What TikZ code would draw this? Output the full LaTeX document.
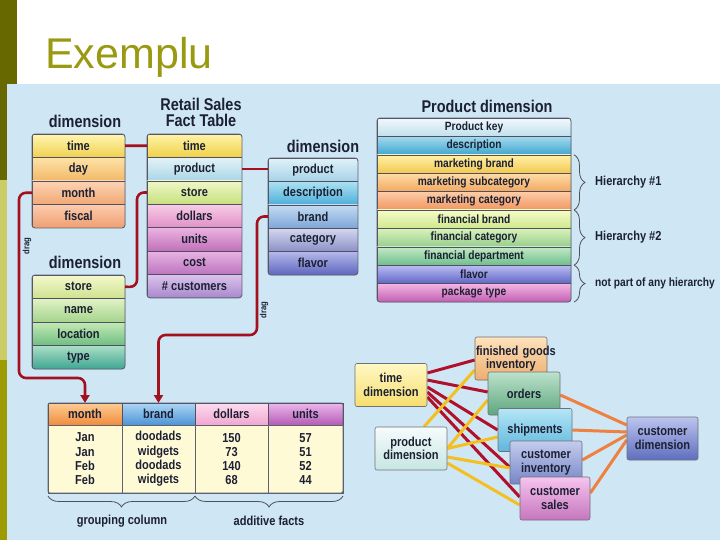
\documentclass[tikz,border=0pt]{standalone}
\usepackage{fontspec}
\setmainfont{Liberation Sans}
\newfontfamily\cfont[FakeStretch=0.85]{Liberation Sans}
\usetikzlibrary{decorations.pathreplacing,arrows.meta}
\pgfdeclarelayer{bg}
\pgfdeclarelayer{edges}
\pgfsetlayers{bg,edges,main}
% base colours
\definecolor{panel}{HTML}{CFE6F4}
\definecolor{stripa}{HTML}{686800}
\definecolor{stripb}{HTML}{CCCC66}
\definecolor{stripc}{HTML}{9C9C00}
\definecolor{titleol}{HTML}{9A9A12}
\definecolor{txt}{HTML}{1C2033}
\definecolor{rowline}{HTML}{505060}
\definecolor{tborder}{HTML}{606070}
\definecolor{bracec}{HTML}{505058}
\definecolor{dragred}{HTML}{A3101E}
\definecolor{ered}{HTML}{B0102A}
\definecolor{eyel}{HTML}{F4C020}
\definecolor{eora}{HTML}{F08040}
\definecolor{gborder}{HTML}{707078}
% table 1
\definecolor{t1a}{HTML}{FFF6B0}\definecolor{t1b}{HTML}{F0D050}
\definecolor{dya}{HTML}{FDE2A8}\definecolor{dyb}{HTML}{F2B866}
\definecolor{moa}{HTML}{FDD4B4}\definecolor{mob}{HTML}{F0A874}
\definecolor{fia}{HTML}{FCCCAE}\definecolor{fib}{HTML}{EE9E70}
% fact table
\definecolor{fta}{HTML}{FFF4A8}\definecolor{ftb}{HTML}{F0D048}
\definecolor{fpa}{HTML}{E4F2F6}\definecolor{fpb}{HTML}{A8D6E6}
\definecolor{fsa}{HTML}{F0F8C8}\definecolor{fsb}{HTML}{C6E07E}
\definecolor{fda}{HTML}{F8CCE6}\definecolor{fdb}{HTML}{E090C8}
\definecolor{fua}{HTML}{ECB4E2}\definecolor{fub}{HTML}{C070B8}
\definecolor{fca}{HTML}{E8B4E4}\definecolor{fcb}{HTML}{BC74BE}
\definecolor{fxa}{HTML}{DCC4EE}\definecolor{fxb}{HTML}{A888CC}
% dimension 3
\definecolor{dpa}{HTML}{E0F2F8}\definecolor{dpb}{HTML}{A6D2E8}
\definecolor{dda}{HTML}{ACE2F2}\definecolor{ddb}{HTML}{4EAEDA}
\definecolor{dba}{HTML}{C4DCF2}\definecolor{dbb}{HTML}{7EA6D8}
\definecolor{dca}{HTML}{D4D8EE}\definecolor{dcb}{HTML}{8A90C8}
\definecolor{dfa}{HTML}{B4B8EA}\definecolor{dfb}{HTML}{5E66BE}
% dimension 4
\definecolor{sta}{HTML}{F4F8CC}\definecolor{stb}{HTML}{CEE290}
\definecolor{sna}{HTML}{E2F2C4}\definecolor{snb}{HTML}{A4D48E}
\definecolor{sla}{HTML}{C4EAB4}\definecolor{slb}{HTML}{6EBE82}
\definecolor{sya}{HTML}{ACDEC6}\definecolor{syb}{HTML}{3EA692}
% product dimension
\definecolor{pka}{HTML}{F0F8FC}\definecolor{pkb}{HTML}{C0E0EC}
\definecolor{pda}{HTML}{A4DAEE}\definecolor{pdb}{HTML}{3EA6D0}
\definecolor{pma}{HTML}{FFF2A8}\definecolor{pmb}{HTML}{F2C850}
\definecolor{psa}{HTML}{FDDCA6}\definecolor{psb}{HTML}{F2A860}
\definecolor{pca}{HTML}{FDCCA6}\definecolor{pcb}{HTML}{F09660}
\definecolor{pfa}{HTML}{F6FCC6}\definecolor{pfb}{HTML}{CEE88E}
\definecolor{pga}{HTML}{DAF2BA}\definecolor{pgb}{HTML}{96CE8E}
\definecolor{pha}{HTML}{C4EAC4}\definecolor{phb}{HTML}{6EBE8E}
\definecolor{pla}{HTML}{BCBCF2}\definecolor{plb}{HTML}{5E66C6}
\definecolor{ppa}{HTML}{F4B6E4}\definecolor{ppb}{HTML}{C25EB2}
% bottom table
\definecolor{bma}{HTML}{FDCC94}\definecolor{bmb}{HTML}{F08C3C}
\definecolor{bba}{HTML}{ACD6F6}\definecolor{bbb}{HTML}{4C94D6}
\definecolor{bda}{HTML}{FDDCEE}\definecolor{bdb}{HTML}{F0A6D0}
\definecolor{bua}{HTML}{ECB6EC}\definecolor{bub}{HTML}{B45CB4}
\definecolor{bodyc}{HTML}{FFFAD6}
% graph
\definecolor{gta}{HTML}{FFF8C4}\definecolor{gtb}{HTML}{F6DE6E}
\definecolor{gpa}{HTML}{F6FCFC}\definecolor{gpb}{HTML}{C6E6E2}
\definecolor{gfa}{HTML}{FDE2BC}\definecolor{gfb}{HTML}{EEAE6E}
\definecolor{goa}{HTML}{BCE2CC}\definecolor{gob}{HTML}{5EA67E}
\definecolor{gsa}{HTML}{B4E6F6}\definecolor{gsb}{HTML}{5EB6DC}
\definecolor{gia}{HTML}{C4CCEE}\definecolor{gib}{HTML}{7686C6}
\definecolor{gca}{HTML}{F6C4EE}\definecolor{gcb}{HTML}{C676BE}
\definecolor{gda}{HTML}{BCC4EE}\definecolor{gdb}{HTML}{5E6EBE}

\begin{document}
\begin{tikzpicture}[x=1pt,y=-1pt,
  hdr/.style={font=\cfont\bfseries\fontsize{17}{16}\selectfont, text=txt, inner sep=0pt, align=center},
  row/.style={anchor=north west, inner sep=0pt, outer sep=0pt, draw=rowline, line width=0.5pt,
    font=\cfont\bfseries\fontsize{13}{13}\selectfont, text=txt},
  grad/.style 2 args={top color=#1, bottom color=#2},
  rowA/.style={row, minimum width=93pt, minimum height=23.5pt},
  rowF/.style={row, minimum width=95pt, minimum height=23.4pt},
  rowD/.style={row, minimum width=90pt, minimum height=23.4pt},
  rowP/.style={row, minimum width=194pt, minimum height=18.4pt, font=\cfont\bfseries\fontsize{12}{12}\selectfont},
  tframe/.style={draw=tborder, line width=0.9pt, rounded corners=3pt},
  bhead/.style={row, minimum height=22pt},
  bbody/.style={anchor=north west, inner sep=0pt, outer sep=0pt, draw=tborder, line width=0.6pt, fill=bodyc,
    minimum height=68pt, align=center, font=\cfont\bfseries\fontsize{13}{14.3}\selectfont, text=txt},
  lbl/.style={font=\cfont\bfseries\fontsize{13}{13}\selectfont, text=txt, inner sep=0pt},
  draglbl/.style={font=\cfont\bfseries\fontsize{9}{9}\selectfont, text=txt, inner sep=0pt, rotate=90},
  brc/.style={draw=bracec, line width=0.8pt, decorate, decoration={brace, amplitude=11pt}},
  dragl/.style={draw=dragred, line width=2.6pt, rounded corners=7pt},
  gbox/.style={draw=gborder, line width=0.6pt, rounded corners=2pt, minimum width=72pt,
    minimum height=43pt, inner sep=1pt, align=center,
    font=\cfont\bfseries\fontsize{13}{13.5}\selectfont, text=txt},
  gedge/.style={line width=3pt}
]
\useasboundingbox (0,0) rectangle (720,540);
\begin{pgfonlayer}{bg}
  \fill[white] (0,0) rectangle (720,540);
  \fill[stripa] (0,0) rectangle (17,180);
  \fill[stripb] (0,180) rectangle (17,360);
  \fill[stripc] (0,360) rectangle (17,540);
  \fill[panel] (7,84) rectangle (720,540);
\end{pgfonlayer}
\clip (0,0) rectangle (720,540);

\node[anchor=base west, font=\fontsize{43}{43}\selectfont, text=titleol, inner sep=0pt] (title) at (45,69) {Exemplu};

% ---------- time dimension ----------
\node[hdr] (h1) at (85,121) {dimension};
\begin{scope}
  \clip[rounded corners=3pt] (32,134) rectangle (125,228);
  \node[rowA, grad={t1a}{t1b}] (d1time) at (32,134) {time};
  \node[rowA, grad={dya}{dyb}] (d1day) at (d1time.south west) {day};
  \node[rowA, grad={moa}{mob}] (d1month) at (d1day.south west) {month};
  \node[rowA, grad={fia}{fib}] (d1fiscal) at (d1month.south west) {fiscal};
\end{scope}
\draw[tframe] (d1time.north west) rectangle (d1fiscal.south east);

% ---------- fact table ----------
\node[hdr] (h2) at (201,112) {Retail Sales\\Fact Table};
\begin{scope}
  \clip[rounded corners=3pt] (147,134) rectangle (242,297.8);
  \node[rowF, grad={fta}{ftb}] (fttime) at (147,134) {time};
  \node[rowF, grad={fpa}{fpb}] (ftproduct) at (fttime.south west) {product};
  \node[rowF, grad={fsa}{fsb}] (ftstore) at (ftproduct.south west) {store};
  \node[rowF, grad={fda}{fdb}] (ftdollars) at (ftstore.south west) {dollars};
  \node[rowF, grad={fua}{fub}] (ftunits) at (ftdollars.south west) {units};
  \node[rowF, grad={fca}{fcb}] (ftcost) at (ftunits.south west) {cost};
  \node[rowF, grad={fxa}{fxb}] (ftcust) at (ftcost.south west) {\# customers};
\end{scope}
\draw[tframe] (fttime.north west) rectangle (ftcust.south east);

% ---------- product (small) dimension ----------
\node[hdr] (h3) at (323,146) {dimension};
\begin{scope}
  \clip[rounded corners=3pt] (268,158) rectangle (358,275);
  \node[rowD, grad={dpa}{dpb}] (d3product) at (268,158) {product};
  \node[rowD, grad={dda}{ddb}] (d3desc) at (d3product.south west) {description};
  \node[rowD, grad={dba}{dbb}] (d3brand) at (d3desc.south west) {brand};
  \node[rowD, grad={dca}{dcb}] (d3cat) at (d3brand.south west) {category};
  \node[rowD, grad={dfa}{dfb}] (d3flavor) at (d3cat.south west) {flavor};
\end{scope}
\draw[tframe] (d3product.north west) rectangle (d3flavor.south east);

% ---------- store dimension ----------
\node[hdr] (h4) at (85,262) {dimension};
\begin{scope}
  \clip[rounded corners=3pt] (32,275) rectangle (125,369);
  \node[rowA, grad={sta}{stb}] (d4store) at (32,275) {store};
  \node[rowA, grad={sna}{snb}] (d4name) at (d4store.south west) {name};
  \node[rowA, grad={sla}{slb}] (d4loc) at (d4name.south west) {location};
  \node[rowA, grad={sya}{syb}] (d4type) at (d4loc.south west) {type};
\end{scope}
\draw[tframe] (d4store.north west) rectangle (d4type.south east);

% ---------- Product dimension ----------
\node[hdr] (h5) at (487,106) {Product dimension};
\begin{scope}
  \clip[rounded corners=3pt] (377,118) rectangle (571,302);
  \node[rowP, grad={pka}{pkb}] (pkey) at (377,118) {Product key};
  \node[rowP, grad={pda}{pdb}] (pdesc) at (pkey.south west) {description};
  \node[rowP, grad={pma}{pmb}] (pmb) at (pdesc.south west) {marketing brand};
  \node[rowP, grad={psa}{psb}] (pms) at (pmb.south west) {marketing subcategory};
  \node[rowP, grad={pca}{pcb}] (pmc) at (pms.south west) {marketing category};
  \node[rowP, grad={pfa}{pfb}] (pfb) at (pmc.south west) {financial brand};
  \node[rowP, grad={pga}{pgb}] (pfc) at (pfb.south west) {financial category};
  \node[rowP, grad={pha}{phb}] (pfd) at (pfc.south west) {financial department};
  \node[rowP, grad={pla}{plb}] (pfl) at (pfd.south west) {flavor};
  \node[rowP, grad={ppa}{ppb}] (ppt) at (pfl.south west) {package type};
\end{scope}
\draw[tframe] (pkey.north west) rectangle (ppt.south east);

\draw[brc] ([xshift=3pt]pmb.north east) -- ([xshift=3pt]pmc.south east) coordinate[midway, xshift=14pt] (hier1);
\draw[brc] ([xshift=3pt]pfb.north east) -- ([xshift=3pt]pfd.south east) coordinate[midway, xshift=14pt] (hier2);
\draw[brc] ([xshift=3pt]pfl.north east) -- ([xshift=3pt]ppt.south east) coordinate[midway, xshift=14pt] (hier3);
\node[lbl, anchor=west] (lh1) at ([xshift=7pt]hier1) {Hierarchy \#1};
\node[lbl, anchor=west] (lh2) at ([xshift=7pt]hier2) {Hierarchy \#2};
\node[lbl, anchor=west, font=\cfont\bfseries\fontsize{12}{12}\selectfont] (lh3) at ([xshift=7pt]hier3) {not part of any hierarchy};

% ---------- bottom result table ----------
\node[bhead, minimum width=74pt, grad={bma}{bmb}] (hmonth) at (48,403) {month};
\node[bhead, minimum width=73pt, grad={bba}{bbb}] (hbrand) at (hmonth.north east) {brand};
\node[bhead, minimum width=73pt, grad={bda}{bdb}] (hdollars) at (hbrand.north east) {dollars};
\node[bhead, minimum width=75pt, grad={bua}{bub}] (hunits) at (hdollars.north east) {units};
\node[bbody, minimum width=74pt] (cmonth) at (hmonth.south west) {Jan\\Jan\\Feb\\Feb};
\node[bbody, minimum width=73pt] (cbrand) at (hbrand.south west) {doodads\\widgets\\doodads\\widgets};
\node[bbody, minimum width=73pt] (cdollars) at (hdollars.south west) {150\\73\\140\\68};
\node[bbody, minimum width=75pt] (cunits) at (hunits.south west) {57\\51\\52\\44};
\draw[tframe, rounded corners=2pt] (hmonth.north west) rectangle (cunits.south east);

\draw[brc, decoration={mirror}] ([yshift=-3pt]cmonth.south west) -- ([yshift=-3pt]cbrand.south east);
\draw[brc, decoration={mirror}] ([yshift=-3pt]cdollars.south west) -- ([yshift=-3pt]cunits.south east);
\node[lbl] (lgroup) at (122,521) {grouping column};
\node[lbl] (ladd) at (269,521) {additive facts};

% ---------- drag connectors ----------
\draw[dragl] (d1time.east) -- (fttime.west);
\draw[dragl] (ftproduct.east) -- (ftproduct.east -| d3product.west);
\draw[dragl] (ftstore.west) -| (137,287) -- (d4store.east);
\draw[dragl, -{Triangle[length=8pt,width=9pt]}] (d1month.west) -| (19,378) -| (hmonth.north);
\draw[dragl, -{Triangle[length=8pt,width=9pt]}] (d3brand.west) -| (257,335) -| (hbrand.north);
\node[draglbl] (drag1) at (27,246) {drag};
\node[draglbl] (drag2) at (264,310) {drag};

% ---------- graph of conformed dimensions ----------
\node[gbox, grad={gta}{gtb}] (tdim) at (391,385) {time\\dimension};
\node[gbox, grad={gpa}{gpb}] (pdim) at (411,448.5) {product\\dimension};
\node[gbox, grad={gfa}{gfb}, text width=70pt] (fgi) at (511,358.5) {finished~goods\\inventory};
\node[gbox, grad={goa}{gob}] (ord) at (524,393.5) {orders};
\node[gbox, grad={gsa}{gsb}, minimum width=74pt] (shp) at (535,430) {shipments};
\node[gbox, grad={gia}{gib}] (cinv) at (546,462.5) {customer\\inventory};
\node[gbox, grad={gca}{gcb}, minimum width=70pt] (csales) at (555,498.5) {customer\\sales};
\node[gbox, grad={gda}{gdb}, minimum width=71pt] (cdim) at (662.5,438.5) {customer\\dimension};

\begin{pgfonlayer}{edges}
  \draw[gedge, ered] ([yshift=12pt]tdim.east) -- ([yshift=-1.5pt]fgi.west);
  \draw[gedge, ered] ([yshift=5pt]tdim.east) -- ([yshift=1.5pt]ord.west);
  \draw[gedge, ered] ([yshift=-2pt]tdim.east) -- (shp.west);
  \draw[gedge, ered] ([yshift=-7pt]tdim.east) -- ([yshift=-4.5pt]cinv.west);
  \draw[gedge, ered] ([yshift=-12pt]tdim.east) -- ([yshift=1.5pt]csales.west);
  \draw[gedge, eyel] ([xshift=13pt]pdim.north) -- ([yshift=-11.5pt]fgi.west);
  \draw[gedge, eyel] (pdim.east) -- ([yshift=-6.5pt]ord.west);
  \draw[gedge, eyel] (pdim.east) -- ([yshift=-7pt]shp.west);
  \draw[gedge, eyel] ([yshift=-8.5pt]pdim.east) -- ([yshift=-5.5pt]cinv.west);
  \draw[gedge, eyel] ([yshift=-14.5pt]pdim.east) -- ([yshift=-6.5pt]csales.west);
  \draw[gedge, eora] ([yshift=-1.5pt]ord.east) -- ([yshift=13.5pt]cdim.west);
  \draw[gedge, eora] (shp.east) -- ([yshift=6.5pt]cdim.west);
  \draw[gedge, eora] ([yshift=2.5pt]cinv.east) -- ([yshift=3.5pt]cdim.west);
  \draw[gedge, eora] ([yshift=5.5pt]csales.east) -- ([yshift=-1.5pt]cdim.west);
\end{pgfonlayer}
\end{tikzpicture}
\end{document}
